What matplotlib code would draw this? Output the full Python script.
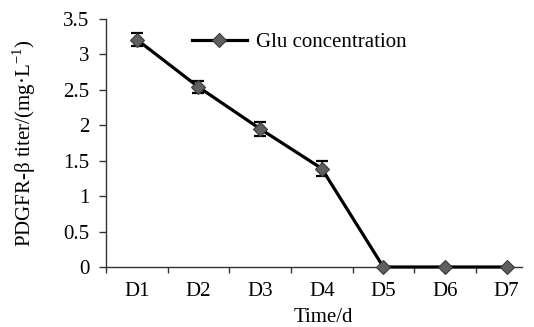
import numpy as np
import matplotlib
matplotlib.use("Agg")
from matplotlib import pyplot as plt

days = ['D1', 'D2', 'D3', 'D4', 'D5', 'D6', 'D7']
titer = [3.21, 2.54, 1.95, 1.39, 0.0, 0.0, 0.0]
err = [0.09, 0.09, 0.1, 0.1, 0.0, 0.0, 0.0]

plt.rcParams['font.family'] = ['Liberation Serif', 'DejaVu Serif']
plt.rcParams['mathtext.fontset'] = 'custom'
plt.rcParams['mathtext.rm'] = 'Liberation Serif'

fs = 15
fig = plt.figure(figsize=(5.34, 3.27), dpi=100)
ax = fig.add_axes([106 / 534, 60 / 327, 416 / 534, 248 / 327])

x = np.arange(len(days))
ax.errorbar(x, titer, yerr=[e if e > 0 else np.nan for e in err], fmt='none',
            ecolor='black', elinewidth=1.2, capsize=4.3, capthick=1.6, zorder=2)
ax.plot(x, titer, color='black', lw=2.3, marker='D', markersize=7.5,
        markerfacecolor='#5f5f5f', markeredgecolor='#3a3a3a', markeredgewidth=0.8,
        label='Glu concentration', zorder=3, clip_on=False)

ax.set_xlim(-0.5, 6.25)
ax.set_ylim(0, 3.5)
ax.set_yticks(np.arange(0, 3.51, 0.5))
ax.set_yticklabels(['0', '0.5', '1', '1.5', '2', '2.5', '3', '3.5'])
ax.set_xticks(x)
ax.set_xticklabels(days)
ax.set_xticks(np.arange(-0.5, 6.3, 1), minor=True)
ax.tick_params(axis='x', which='major', length=0, labelsize=fs, pad=11)
ax.tick_params(axis='x', which='minor', length=4.5, width=1, color='#333333')
ax.tick_params(axis='y', length=5, width=1, color='#333333', labelsize=fs, pad=7)

for s in ['top', 'right']:
    ax.spines[s].set_visible(False)
for s in ['left', 'bottom']:
    ax.spines[s].set_color('#333333')
    ax.spines[s].set_linewidth(1)

ax.set_xlabel('Time/d', fontsize=fs, va='top')
ax.xaxis.set_label_coords(0.522, -0.164)
ax.set_ylabel('PDGFR-β titer/(mg·L$^{-1}$)', fontsize=fs)
ax.yaxis.set_label_coords(-0.163, 0.5)

ax.legend(loc='upper left', bbox_to_anchor=(0.171, 1.004), frameon=False,
          fontsize=fs, handlelength=2.65, handletextpad=0.45, borderaxespad=0.3)

fig.savefig('out.png', dpi=100)
